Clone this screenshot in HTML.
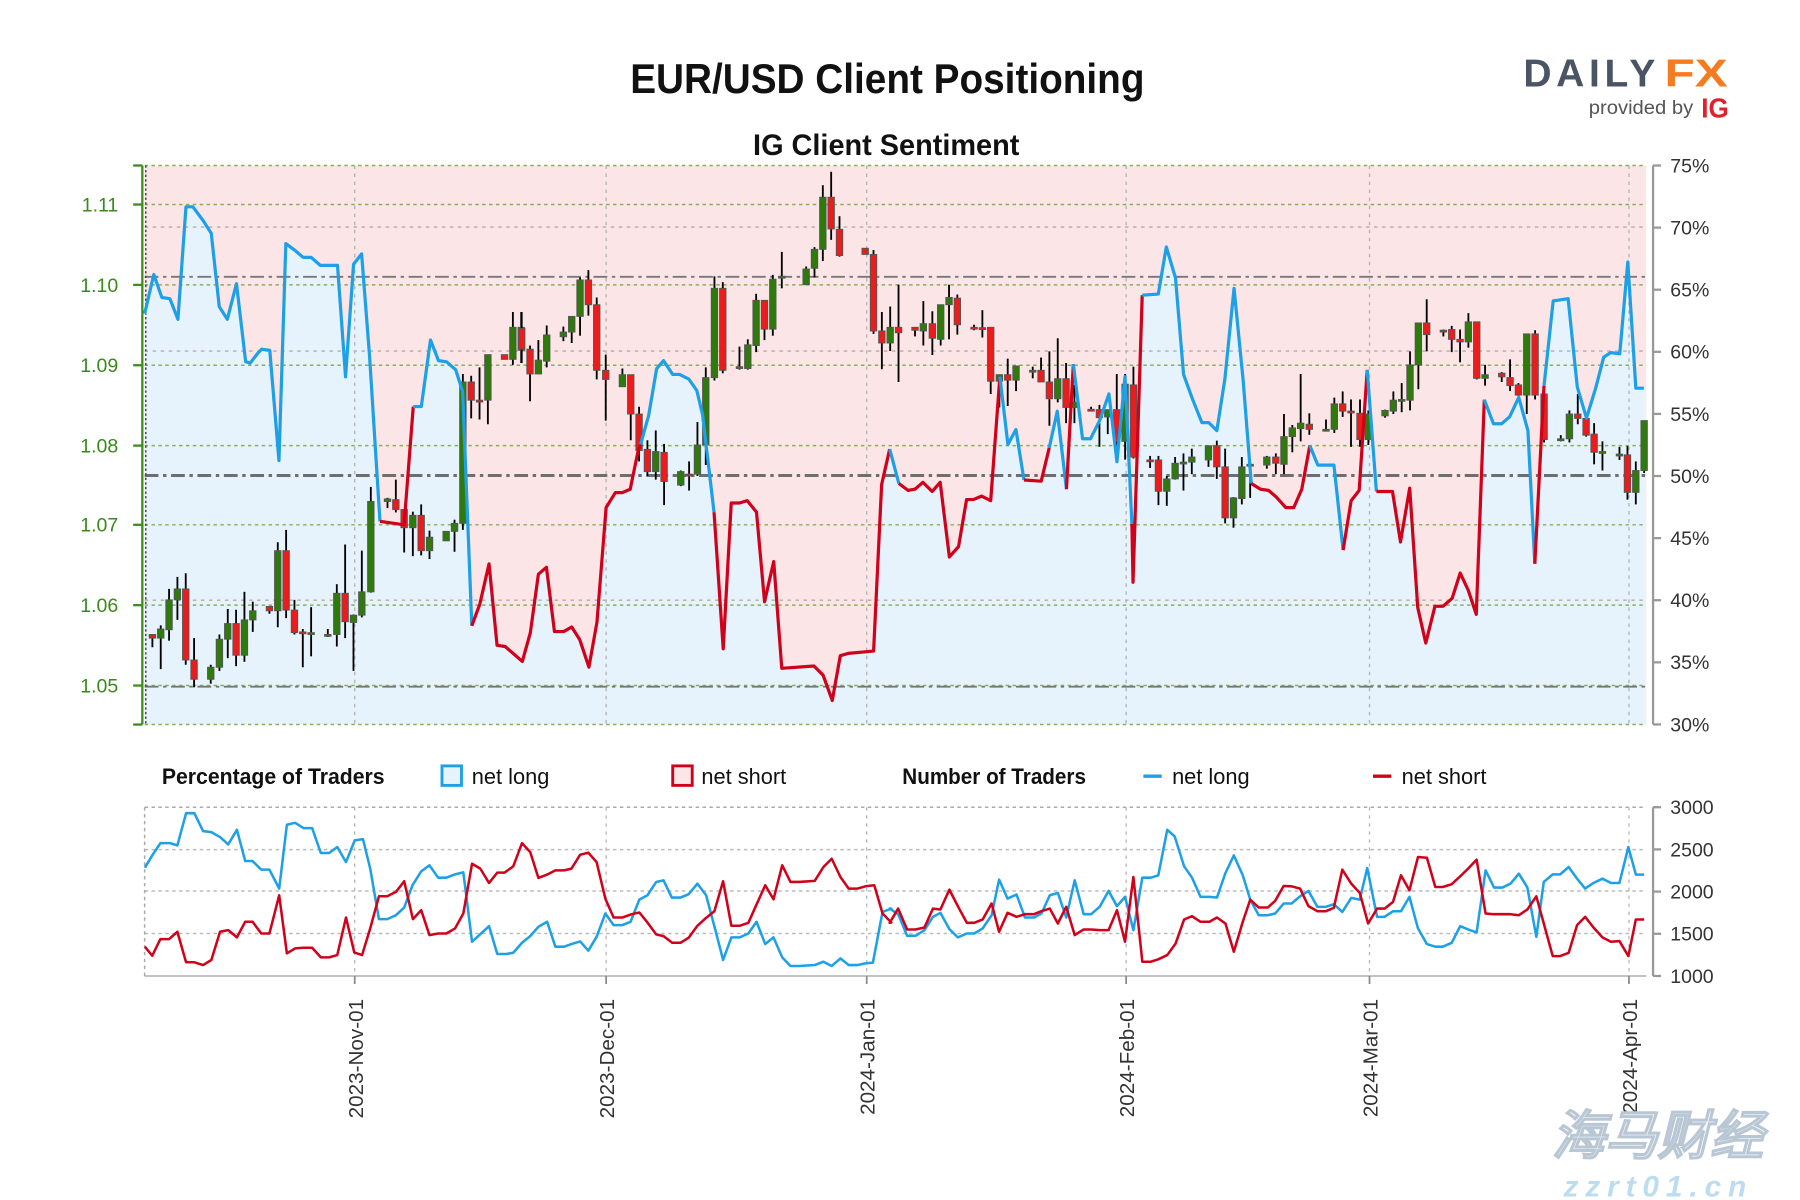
<!DOCTYPE html>
<html><head><meta charset="utf-8"><style>
html,body{margin:0;padding:0;background:#fff;width:1800px;height:1200px;overflow:hidden}
svg{display:block}
text{font-family:"Liberation Sans",sans-serif}
</style></head><body>
<svg id="s" xmlns="http://www.w3.org/2000/svg" width="1800" height="1200" viewBox="0 0 1568 1045">
<rect x="0" y="0" width="1568" height="1045" fill="#fff"/>
<text x="773" y="81" text-anchor="middle" font-size="36" font-weight="bold" fill="#111" textLength="448" lengthAdjust="spacingAndGlyphs">EUR/USD Client Positioning</text>
<text x="772" y="135" text-anchor="middle" font-size="26" font-weight="bold" fill="#111" textLength="232" lengthAdjust="spacingAndGlyphs">IG Client Sentiment</text>
<text x="1327" y="75" font-size="34" font-weight="bold" fill="#4a5464" textLength="115" lengthAdjust="spacing">DAILY</text>
<text x="1450" y="75" font-size="34" font-weight="bold" fill="#f47b20" textLength="55" lengthAdjust="spacingAndGlyphs">FX</text>
<text x="1384" y="99" font-size="17" fill="#555" textLength="91" lengthAdjust="spacingAndGlyphs">provided by</text>
<text x="1482" y="102" font-size="24" font-weight="bold" fill="#e2202a" textLength="24" lengthAdjust="spacingAndGlyphs">IG</text>
<g id="main"></g>
<g id="bot"></g>
<g font-size="19" fill="#111">
<text x="141" y="683" font-weight="bold" textLength="194" lengthAdjust="spacingAndGlyphs">Percentage of Traders</text>
<rect x="385" y="667" width="17" height="17" fill="#e6f3fc" stroke="#1ea0e6" stroke-width="2.5"/>
<text x="411" y="683">net long</text>
<rect x="586" y="667" width="17" height="17" fill="#fbe5e6" stroke="#d0021b" stroke-width="2.5"/>
<text x="611" y="683">net short</text>
<text x="786" y="683" font-weight="bold" textLength="160" lengthAdjust="spacingAndGlyphs">Number of Traders</text>
<line x1="996" y1="676" x2="1012" y2="676" stroke="#1ea0e6" stroke-width="3"/>
<text x="1021" y="683">net long</text>
<line x1="1196" y1="676" x2="1212" y2="676" stroke="#d0021b" stroke-width="3"/>
<text x="1221" y="683">net short</text>
</g>
<g font-size="18" fill="#333">
<text transform="translate(316,870) rotate(-90)" text-anchor="end">2023-Nov-01</text>
<text transform="translate(535,870) rotate(-90)" text-anchor="end">2023-Dec-01</text>
<text transform="translate(762,870) rotate(-90)" text-anchor="end">2024-Jan-01</text>
<text transform="translate(988,870) rotate(-90)" text-anchor="end">2024-Feb-01</text>
<text transform="translate(1200,870) rotate(-90)" text-anchor="end">2024-Mar-01</text>
<text transform="translate(1426,870) rotate(-90)" text-anchor="end">2024-Apr-01</text>
</g>
<text x="1352" y="1005" font-size="46" font-style="italic" font-weight="bold" fill="#f4f7fa" stroke="#b9c7d4" stroke-width="1.2" font-family="'Liberation Sans','Noto Sans CJK SC',sans-serif">海马财经</text>
<text x="1362" y="1042" font-size="26" font-style="italic" font-weight="bold" fill="#bcdcf0" letter-spacing="6">zzrt01.cn</text>
</svg>
<script>
var NS="http://www.w3.org/2000/svg";
function el(p,t,a){var e=document.createElementNS(NS,t);for(var k in a)e.setAttribute(k,a[k]);p.appendChild(e);return e;}
var M=document.getElementById('main'),B=document.getElementById('bot');
var X0=126,X1=1434,Y0=144,Y1=631;
var segs=[
['b','126,273 134,239 141,259 148,260 155,278 162,180 168,180 177,192 184,203 191,267 198,278 206,247 214,315 218,316 225,307 228,304 235,305 243,401 249,212 257,218 264,224 271,224 279,231 294,231 301,328 308,230 315,221 322,311 331,454'],
['r','331,454 352,457 360,354'],
['b','360,354 367,354 375,296 382,314 389,315 397,322 403,341 411,545'],
['r','411,545 418,526 426,491 433,562 440,563 455,576 462,551 469,500 476,494 483,550 491,550 498,546 505,557 513,581 520,542 528,442 536,429 542,429 549,426 556,392 558,387'],
['b','558,387 565,362 572,321 578,314 586,326 592,326 600,330 607,340 612,361 622,446'],
['r','622,446 630,565 637,438 644,438 651,436 659,446 666,524 674,489 681,582 709,580 717,588 725,610 732,571 739,569 761,567 768,422 775,391'],
['b','775,391 783,421'],
['r','783,421 791,427 797,426 804,420 812,428 819,420 827,485 835,476 842,435 848,435 855,432 863,436 871,328'],
['b','871,328 878,387 885,374 892,418'],
['r','892,418 907,419 914,390'],
['b','914,390 921,358 929,426'],
['r','929,426 935,317'],
['b','935,317 943,382 950,382 958,366 966,343 973,402 980,328 986,456'],
['r','986,456 987,507 995,257'],
['b','995,257 1009,256 1016,215 1024,242 1031,326 1039,348 1047,368 1053,368 1060,375 1067,330 1075,251 1083,332 1090,421'],
['r','1090,421 1098,426 1105,427 1112,433 1120,442 1127,442 1134,426 1141,388'],
['b','1141,388 1148,405 1162,405 1170,479'],
['r','1170,479 1177,436 1184,427 1191,322'],
['b','1191,322 1199,428'],
['r','1199,428 1213,428 1220,472 1228,425 1235,529 1242,560 1250,528 1257,528 1265,521 1272,499 1279,514 1286,535 1293,348'],
['b','1293,348 1301,369 1308,369 1315,363 1323,346 1331,375 1337,491'],
['r','1337,491 1345,336'],
['b','1345,336 1353,262 1366,260 1374,337 1382,364 1390,338 1397,311 1403,307 1411,308 1418,228 1425,338 1432,338']];
var all=[];segs.forEach(function(s,i){var p=s[1].split(' ');if(i>0)p=p.slice(1);all=all.concat(p);});
el(M,'rect',{x:X0,y:Y0,width:X1-X0,height:Y1-Y0,fill:'#fbe5e6'});
el(M,'polygon',{points:'126,631 '+all.join(' ')+' 1434,338 1434,631',fill:'#e6f3fc'});
[197.6,305.6,522.7].forEach(function(y){el(M,'line',{x1:X0,x2:X1,y1:y,y2:y,stroke:'#b8a9a9','stroke-width':1.2,'stroke-dasharray':'3,4'});});
[178,248,318,388,457,527,597,144,631].forEach(function(y){el(M,'line',{x1:X0,x2:X1,y1:y,y2:y,stroke:'#86b05a','stroke-width':1.3,'stroke-dasharray':'3,3'});});
[309,528,755,981,1193,1419].forEach(function(x){el(M,'line',{x1:x,x2:x,y1:Y0,y2:Y1,stroke:'#b5b5b5','stroke-width':1.2,'stroke-dasharray':'3,4'});});
el(M,'line',{x1:X0,x2:X1,y1:241,y2:241,stroke:'#777','stroke-width':1.6,'stroke-dasharray':'12,4,3,4'});
el(M,'line',{x1:X0,x2:X1,y1:598,y2:598,stroke:'#777','stroke-width':1.6,'stroke-dasharray':'12,4,3,4'});
el(M,'line',{x1:X0,x2:X1,y1:414,y2:414,stroke:'#6e6e6e','stroke-width':2.6,'stroke-dasharray':'12,4,3,4'});
el(M,'line',{x1:127,x2:127,y1:Y0,y2:Y1,stroke:'#445','stroke-width':1.3,'stroke-dasharray':'2,2'});
function fy(y){return 178+(y-125)*0.3174;}
var C={122:[[37,1305,1315,1305,1340,'r'],[62,1290,1315,1280,1400,'g'],[87,1210,1292,1180,1322,'g'],[112,1180,1210,1147,1265,'g'],[137,1180,1375,1137,1388,'r'],[162,1375,1428,1315,1450,'r'],[212,1395,1428,1388,1440,'g'],[238,1318,1395,1305,1405,'g'],[263,1275,1318,1235,1370,'g'],[288,1275,1362,1237,1392,'r'],[313,1265,1362,1188,1380,'g'],[338,1240,1265,1215,1298,'g'],[388,1228,1240,1228,1248,'r'],[413,1075,1240,1052,1285,'g'],[438,1075,1238,1018,1260,'r'],[463,1238,1300,1210,1305,'r'],[488,1298,1298,1290,1395,'r'],[513,1300,1300,1230,1365,'r'],[563,1305,1305,1290,1312,'r'],[590,1192,1305,1167,1338,'g'],[615,1192,1270,1058,1315,'r'],[640,1252,1272,1250,1405,'g'],[665,1188,1252,1075,1258,'g'],[692,940,1188,900,1190,'g'],[742,933,940,930,958,'g'],[767,935,962,880,970,'r'],[792,962,1012,962,1080,'r'],[818,978,1012,968,1090,'g'],[843,978,1075,948,1088,'r'],[868,1038,1075,1020,1098,'g'],[918,1022,1048,1022,1048,'g'],[943,1000,1022,990,1078,'g'],[968,612,1000,590,1018,'g'],[993,612,662,595,712,'r'],[1018,662,662,572,715,'r'],[1043,537,662,537,728,'g'],[1093,537,550,537,550,'r'],[1118,462,550,420,565,'g'],[1143,462,525,420,560,'r']],
453:[[5,465,522,420,560,'r'],[30,522,590,512,665,'r'],[55,552,590,497,590,'g'],[80,483,555,457,572,'g'],[130,475,488,460,500,'g'],[155,432,475,432,505,'g'],[180,332,432,325,485,'g'],[205,332,400,305,430,'r'],[230,400,580,380,605,'r'],[257,580,605,537,718,'r'],[307,592,625,575,625,'g'],[332,592,700,592,772,'r'],[357,700,800,680,830,'r'],[382,797,858,772,870,'r'],[407,803,858,745,880,'g'],[432,805,885,782,950,'r'],[482,858,895,855,898,'g'],[507,865,865,830,910,'r'],[532,785,865,722,870,'g'],[557,600,785,572,840,'g'],[583,355,600,322,608,'g'],[608,355,580,338,588,'r'],[658,570,575,515,578,'r'],[683,510,575,495,578,'g'],[708,388,512,370,530,'g'],[733,388,467,388,497,'r'],[758,330,467,318,485,'g'],[785,322,322,255,355,'g'],[858,302,345,295,345,'g'],[883,248,300,242,325,'g'],[908,105,248,72,280,'g'],[933,105,192,35,222,'r'],[958,193,265,157,268,'r'],[1035,245,262,245,262,'r'],[1060,262,472,250,480,'r'],[1085,472,505,420,577,'r'],[1110,462,505,405,527,'g'],[1135,462,477,345,612,'r']],
784:[[45,462,470,462,487,'r'],[70,452,472,390,512,'g'],[97,452,492,418,538,'r'],[122,400,495,400,512,'g'],[147,380,400,345,495,'g'],[172,382,455,372,482,'r'],[222,462,462,455,470,'r'],[247,463,463,415,490,'r'],[272,462,610,462,645,'r'],[298,592,610,592,682,'g'],[323,592,607,548,678,'r'],[348,568,607,568,637,'g'],[398,580,580,570,602,'g'],[423,580,612,545,612,'r'],[448,612,658,528,732,'r'],[473,603,658,492,668,'g'],[498,603,682,560,725,'r'],[523,668,682,620,725,'g'],[573,687,687,680,692,'r'],[598,688,710,675,790,'r'],[623,688,708,688,755,'g'],[650,688,775,590,790,'r'],[675,618,775,590,825,'g'],[700,620,818,570,822,'r'],[750,826,826,815,848,'r'],[775,826,912,815,950,'r'],[800,878,912,870,952,'g'],[825,835,878,818,880,'g'],[850,832,832,808,910,'g'],[875,818,832,795,865,'g'],[925,787,826,787,845,'g'],[950,787,845,773,878,'r'],[975,845,985,795,1000,'r'],[1000,930,985,928,1012,'g'],[1025,845,932,818,948,'g'],[1050,838,838,830,930,'g'],[1100,818,840,815,850,'g'],[1127,818,835,808,865,'r']],
1115:[[12,762,838,700,865,'g'],[37,738,762,730,805,'g'],[62,725,740,590,775,'g'],[88,728,742,698,757,'r'],[138,742,742,715,748,'g'],[163,672,742,655,752,'g'],[188,672,692,638,708,'r'],[213,692,692,660,790,'r'],[240,698,770,660,790,'r'],[265,700,770,690,785,'g'],[315,690,705,688,710,'g'],[340,662,692,638,700,'g'],[365,660,660,615,695,'g'],[390,565,662,528,690,'g'],[415,450,565,450,632,'g'],[440,450,482,385,528,'r'],[490,470,470,468,487,'g'],[515,468,495,458,530,'r'],[540,495,502,468,558,'r'],[565,447,502,423,518,'g'],[590,447,602,447,605,'r'],[615,592,602,565,622,'g'],[665,588,598,585,612,'r'],[690,600,622,550,637,'r'],[715,620,648,615,650,'r'],[740,480,648,480,700,'g'],[765,480,648,470,660,'r'],[792,645,770,620,778,'r'],[842,768,768,758,775,'g'],[868,700,768,690,778,'g'],[893,700,712,645,728,'r'],[918,712,758,708,762,'r'],[942,755,805,725,838,'r'],[967,803,803,775,855,'g'],[1018,810,810,790,826,'g'],[1042,812,915,788,935,'r'],[1067,855,915,830,948,'g'],[1092,718,855,718,862,'g']]};
for(var k in C){var x0=+k;C[k].forEach(function(c){var x=x0+c[0]*0.2905;
el(M,'line',{x1:x,x2:x,y1:fy(c[3]),y2:fy(c[4]),stroke:'#000','stroke-width':1.6});
var t=fy(c[1]),b=fy(c[2]);if(b-t<1.6){b=t+1.6;}
el(M,'rect',{x:x-2.8,y:t,width:5.6,height:b-t,fill:c[5]=='g'?'#2e7a0c':'#ec1c1c',stroke:'#555','stroke-width':0.8});});}
segs.forEach(function(s){el(M,'polyline',{points:s[1],fill:'none',stroke:s[0]=='b'?'#1ea0e6':'#d0021b','stroke-width':2.8,'stroke-linejoin':'round'});});
el(M,'line',{x1:124,x2:124,y1:Y0,y2:Y1,stroke:'#3c8c1e','stroke-width':2});
[144,178,248,318,388,457,527,597,631].forEach(function(y){el(M,'line',{x1:116,x2:124,y1:y,y2:y,stroke:'#3c8c1e','stroke-width':2});});
['1.11','1.10','1.09','1.08','1.07','1.06','1.05'].forEach(function(l,i){var t=el(M,'text',{x:103,y:[178,248,318,388,457,527,597][i]+6,'text-anchor':'end','font-size':17,fill:'#3a8a1a'});t.textContent=l;});
el(M,'line',{x1:1440,x2:1440,y1:Y0,y2:Y1,stroke:'#999','stroke-width':2});
for(var i=0;i<10;i++){var y=144+i*54.1;el(M,'line',{x1:1440,x2:1447,y1:y,y2:y,stroke:'#999','stroke-width':2});
var t=el(M,'text',{x:1455,y:y+6,'font-size':17,fill:'#333'});t.textContent=(75-5*i)+'%';}
var BY0=703,BY1=850;
[740,776,813].forEach(function(y){el(B,'line',{x1:X0,x2:X1,y1:y,y2:y,stroke:'#bbb','stroke-width':1.3,'stroke-dasharray':'3,3'});});
el(B,'line',{x1:X0,x2:X1,y1:BY0,y2:BY0,stroke:'#aaa','stroke-width':1.3,'stroke-dasharray':'3,3'});
el(B,'line',{x1:X0,x2:X1,y1:BY1,y2:BY1,stroke:'#bbb','stroke-width':1.5});
el(B,'line',{x1:X0,x2:X0,y1:BY0,y2:BY1,stroke:'#aaa','stroke-width':1.3,'stroke-dasharray':'3,3'});
[309,528,755,981,1193,1419].forEach(function(x){el(B,'line',{x1:x,x2:x,y1:BY0,y2:BY1,stroke:'#bbb','stroke-width':1.2,'stroke-dasharray':'3,4'});el(B,'line',{x1:x,x2:x,y1:BY1,y2:BY1+7,stroke:'#888','stroke-width':1.5});});
el(B,'line',{x1:1440,x2:1440,y1:BY0,y2:BY1,stroke:'#999','stroke-width':2});
['3000','2500','2000','1500','1000'].forEach(function(l,i){var y=BY0+i*36.75;el(B,'line',{x1:1440,x2:1447,y1:y,y2:y,stroke:'#999','stroke-width':2});var t=el(B,'text',{x:1455,y:y+6,'font-size':17,fill:'#333'});t.textContent=l;});
function by(y){return 703+(y-20)*0.2894;}
function pl(arr,x0,s){var p=[];for(var i=0;i<arr.length;i+=2)p.push((x0+arr[i]*s).toFixed(1)+','+by(arr[i+1]).toFixed(1));return p;}
var b6=[10,202,25,165,42,128,62,128,77,135,95,38,112,38,130,92,147,95,165,110,182,132,200,88,217,182,232,182,250,208,267,208,287,265,303,73,320,67,337,83,355,83,373,158,390,158,407,140,425,185,443,120,460,116,475,205,493,357,510,357,528,345,545,322,562,255,580,213,597,195,615,232,632,232,650,222,667,216,685,425,702,402,720,378,737,462,755,462,770,458,788,428,805,408,822,380,840,365,857,440,875,440,890,432,908,424,925,452,942,410,960,340,977,375,995,375,1012,365,1030,298,1047,285,1065,245,1080,240,1097,292,1115,292,1132,282,1150,250,1168,285,1187,390,1203,480,1220,412,1237,412,1255,400,1272,365,1290,432,1307,412,1325,472,1342,498,1360,498,1392,495,1410,485,1427,498,1445,475,1462,495,1480,495,1497,490,1512,488,1532,335,1550,325];
var r6=[10,440,25,467,42,417,60,417,77,395,95,487,112,487,130,495,147,480,165,395,182,390,200,412,217,365,232,365,250,400,267,400,287,285,303,460,320,445,337,443,355,443,373,472,390,472,407,465,425,352,442,457,458,465,475,385,493,288,510,288,528,275,545,243,563,357,580,330,597,405,615,400,632,400,650,385,667,340,685,190,702,205,720,248,737,217,752,217,770,198,788,128,805,155,822,233,840,223,857,210,875,210,890,205,908,163,925,157,942,185,960,295,977,352,995,352,1012,343,1030,337,1047,367,1065,403,1080,408,1098,428,1115,428,1132,413,1150,377,1168,353,1185,333,1203,243,1220,377,1237,377,1255,368,1272,313,1290,255,1307,297,1325,195,1342,245,1360,245,1392,242,1410,200,1427,175,1445,230,1462,265,1480,265,1497,258,1515,255,1532,340,1550,367];
var b7=[0,325,17,342,35,407,52,407,70,390,87,350,102,338,120,387,137,412,155,400,170,400,187,385,205,345,220,238,237,295,255,283,272,352,290,352,305,340,322,285,338,278,355,352,372,240,390,342,405,342,422,320,440,272,457,318,473,290,490,390,508,232,525,232,540,225,558,88,573,108,592,198,608,232,625,290,643,290,658,292,675,218,692,165,710,225,725,298,742,345,760,345,775,340,792,310,808,310,825,288,842,272,860,320,877,320,893,312,910,335,928,293,945,298,960,203,980,350,995,350,1012,333,1028,333,1045,290,1062,385,1080,432,1097,440,1112,440,1130,428,1147,378,1163,388,1180,397,1198,210,1215,262,1232,262,1248,250,1265,220,1282,262,1300,410,1315,245,1333,222,1348,222,1365,200,1382,235,1398,265,1415,248,1433,235,1450,248,1467,248,1485,140,1500,223,1517,223];
var r7=[0,368,17,325,35,388,52,388,70,382,87,325,102,328,120,268,137,318,155,368,170,368,187,358,205,310,220,395,237,338,255,350,272,342,290,342,305,333,322,325,338,370,355,320,372,405,390,388,405,388,422,390,440,390,457,330,473,425,490,230,508,485,525,485,540,478,558,465,575,430,592,358,608,348,625,365,643,365,658,352,675,370,692,455,710,365,725,298,742,322,760,322,775,302,792,257,808,258,825,265,842,318,860,333,877,333,893,323,910,208,928,250,945,278,962,370,980,325,995,325,1012,305,1028,225,1045,270,1062,170,1080,172,1097,260,1112,260,1130,252,1147,228,1163,205,1180,178,1198,340,1215,342,1232,342,1248,342,1265,345,1282,328,1300,288,1315,370,1333,468,1348,468,1365,458,1382,375,1398,350,1415,382,1433,412,1450,425,1467,423,1485,468,1500,358,1517,358];
el(B,'polyline',{points:pl(b6,122,0.4222).concat(pl(b7,775,0.4333)).join(' '),fill:'none',stroke:'#1ea0e6','stroke-width':2.2,'stroke-linejoin':'round'});
el(B,'polyline',{points:pl(r6,122,0.4222).concat(pl(r7,775,0.4333)).join(' '),fill:'none',stroke:'#d0021b','stroke-width':2.2,'stroke-linejoin':'round'});
</script>
</body></html>
